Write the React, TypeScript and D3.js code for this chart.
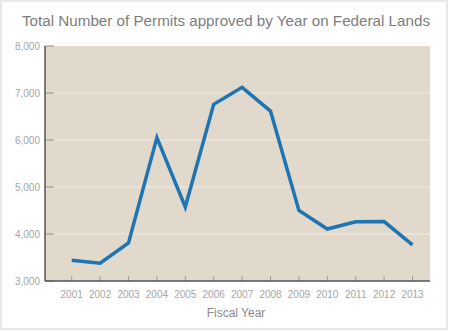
import React from "react";
import * as d3 from "d3";

const years = [2001, 2002, 2003, 2004, 2005, 2006, 2007, 2008, 2009, 2010, 2011, 2012, 2013];
const permits = [3440, 3380, 3810, 6050, 4575, 6760, 7120, 6615, 4500, 4105, 4260, 4265, 3770];
const yTicks = [3000, 4000, 5000, 6000, 7000, 8000];
const title = "Total Number of Permits approved by Year on Federal Lands";
const xTitle = "Fiscal Year";

const W = 450;
const H = 332;
const plot = { left: 45, right: 430, top: 46, bottom: 281 };

export default function App() {
  const x = d3.scaleLinear().domain([2001, 2013]).range([71.7, 412.5]);
  const y = d3.scaleLinear().domain([3000, 8000]).range([plot.bottom, plot.top]);
  const line = d3
    .line<number>()
    .x((_, i) => x(years[i]))
    .y((d) => y(d));
  const fmt = d3.format(",");
  const font = "'Liberation Sans', Arial, Helvetica, sans-serif";

  return (
    <svg
      width={W}
      height={H}
      style={{ position: "absolute", left: 0, top: 0 }}
      fontFamily={font}
    >
      <rect x={0} y={0} width={W} height={H} fill="#ffffff" />
      <rect x={1} y={1} width={446} height={328} fill="#ffffff" stroke="#e8e8e8" strokeWidth={2} />
      <text
        x={22}
        y={26}
        textLength={408}
        lengthAdjust="spacingAndGlyphs"
        fontSize={15.5}
        fill="#7d7d7d"
      >
        {title}
      </text>
      <rect
        x={plot.left}
        y={plot.top}
        width={plot.right - plot.left}
        height={plot.bottom - plot.top}
        fill="#e0d9cc"
      />
      {yTicks.slice(1, -1).map((t) => (
        <line key={"g" + t} x1={plot.left} x2={plot.right} y1={y(t)} y2={y(t)} stroke="#f0ece4" strokeWidth={1} />
      ))}
      {yTicks.map((t) => (
        <g key={"yt" + t}>
          <line x1={plot.left} x2={plot.left + 9} y1={y(t)} y2={y(t)} stroke="#888" strokeWidth={1} />
          <text x={40} y={y(t)} dy="0.35em" textAnchor="end" fontSize={10} fill="#a5a5a5">
            {fmt(t)}
          </text>
        </g>
      ))}
      {years.map((yr) => (
        <g key={"xt" + yr}>
          <line x1={x(yr)} x2={x(yr)} y1={plot.bottom} y2={plot.bottom - 5} stroke="#a09a90" strokeWidth={1} />
          <text x={x(yr)} y={298} textAnchor="middle" fontSize={10} fill="#a5a5a5">
            {yr}
          </text>
        </g>
      ))}
      <line x1={plot.left} x2={plot.left} y1={plot.top} y2={plot.bottom} stroke="#555" strokeWidth={1.5} />
      <line x1={plot.left} x2={plot.right} y1={plot.bottom} y2={plot.bottom} stroke="#555" strokeWidth={1.5} />
      <path d={line(permits) || ""} fill="none" stroke="#1f74b4" strokeWidth={3.5} strokeLinejoin="miter" />
      <text x={236} y={317} textAnchor="middle" fontSize={12} fill="#8a8a8a">
        {xTitle}
      </text>
    </svg>
  );
}
